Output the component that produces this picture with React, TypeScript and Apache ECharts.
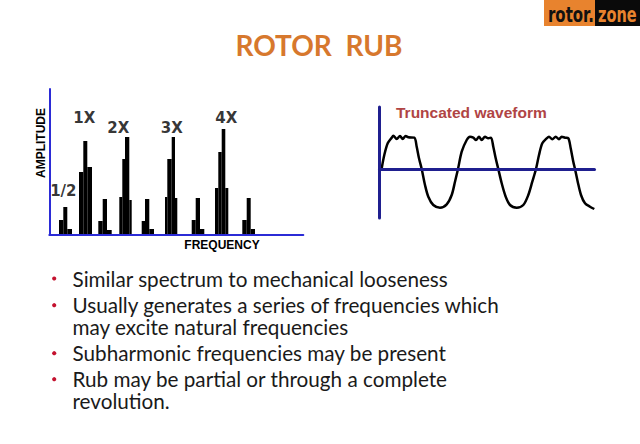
import React, { useEffect, useRef } from "react";
import * as echarts from "echarts";

// ---- Spectrum (left chart): stepped bins [start, end, amplitude] ----
const binStart = [9.7, 14, 18, 29.7, 34, 38, 49, 53.4, 57.7, 70, 73, 75.7, 80, 92.4, 95.7, 100, 115.7, 118, 122.4, 125.7, 142.4, 146.4, 150.7, 165.7, 169, 172.4, 176, 193, 197.4, 201.4];
const binEnd = [14, 18, 22.7, 34, 38, 42.7, 53.4, 57.7, 62.4, 73, 75.7, 80, 82.4, 95.7, 100, 104.7, 118, 122.4, 125.7, 128, 146.4, 150.7, 155, 169, 172.4, 176, 179, 197.4, 201.4, 205.7];
const binAmp = [15, 28, 6, 63, 94, 68, 14, 36, 5, 38, 76, 98, 35, 14, 36, 6, 38, 76, 98, 37, 15, 37, 6, 47, 83, 106, 47, 15, 37, 6];

const peakNames = ["1/2", "1X", "2X", "3X", "4X"];
const peakLabelX = [14, 34.9, 69, 122.4, 177];
const peakLabelY = [44, 117.5, 107.5, 107.5, 117.5];

// ---- Truncated waveform (right chart) ----
const waveT = [2.2, 4.8, 8.2, 12.2, 13.8, 17.2, 20.5, 23.2, 26.2, 28.8, 34.8, 37.2, 39.5, 42.2, 45.5, 48.8, 53.8, 60.5, 67.2, 72.2, 75.5, 78.5, 82.2, 87.2, 90.5, 93.8, 96.5, 99.5, 102.2, 105.5, 108.8, 111.5, 113.8, 116.2, 118.8, 122.2, 126.2, 130.5, 137.2, 143.8, 148.8, 152.8, 156.5, 159.5, 162.8, 167.2, 169.5, 172.8, 176.2, 179.5, 182.2, 185.5, 188.8, 191.2, 193.8, 195.5, 198.2, 201.5, 205.5, 210.5, 214.8];
const waveA = [0.7, 14, 25.7, 31.3, 33.3, 30, 33, 30, 33, 31.7, 31.3, 22.3, 10.7, 0, -16, -27.7, -36, -38.7, -35.3, -26, -12.7, 0, 17.3, 29, 32.3, 31.3, 29, 32.3, 29, 32.3, 30.7, 31.3, 22.3, 10.7, 0, -14.3, -27.7, -36, -38.7, -36, -26, -12.7, 0, 14, 25.7, 30.7, 32.3, 29.7, 32.3, 29.7, 32.3, 31.3, 30.7, 20.7, 7.3, 0, -12.7, -26, -34.3, -37.7, -40];

// ---- Texts ----
const titleText = "ROTOR  RUB";
const bulletLines = [
  "Similar spectrum to mechanical looseness",
  "Usually generates a series of frequencies which",
  "may excite natural frequencies",
  "Subharmonic frequencies may be present",
  "Rub may be partial or through a complete",
  "revolution.",
];
const bulletStartsItem = [true, true, false, true, true, false];

export default function App() {
  const ref = useRef<HTMLDivElement>(null);
  useEffect(() => {
    if (!ref.current) return;
    const chart = echarts.init(ref.current, null, { renderer: "svg" });

    const bins = binStart.map((s, i) => [s, binEnd[i], binAmp[i]]);
    const peaks = peakNames.map((n, i) => [peakLabelX[i], peakLabelY[i], n]);
    const wave = waveT.map((t, i) => [t, waveA[i]]);

    const lineCenters = [278.5, 305.2, 326.5, 353.2, 379.2, 400.8];
    const bulletGraphics: any[] = [];
    bulletLines.forEach((txt, i) => {
      if (bulletStartsItem[i]) {
        bulletGraphics.push({
          type: "circle",
          shape: { cx: 54.2, cy: lineCenters[i], r: 2.1 },
          style: { fill: "#C4122F" },
        });
      }
      bulletGraphics.push({
        type: "text",
        x: 72.5,
        y: lineCenters[i],
        style: {
          text: txt,
          fill: "#1a1a1a",
          fontSize: 20.7,
          lineHeight: 20,
          fontFamily: "Lato",
          align: "left",
          verticalAlign: "middle",
        },
      });
    });

    const option: any = {
      animation: false,
      backgroundColor: "#ffffff",
      grid: [
        { left: 49.3, top: 89, width: 254, height: 146 },
        { left: 379.5, top: 107, width: 215, height: 111 },
      ],
      xAxis: [
        {
          gridIndex: 0, type: "value", min: 0, max: 254, z: 5,
          axisLine: { show: true, lineStyle: { color: "#2b2bd6", width: 2 } },
          axisTick: { show: false }, axisLabel: { show: false }, splitLine: { show: false },
        },
        {
          gridIndex: 1, type: "value", min: 0, max: 215, z: 5,
          axisLine: { show: true, onZero: true, lineStyle: { color: "#1f1f8f", width: 3 } },
          axisTick: { show: false }, axisLabel: { show: false }, splitLine: { show: false },
        },
      ],
      yAxis: [
        {
          gridIndex: 0, type: "value", min: 0, max: 146, z: 5,
          axisLine: { show: true, lineStyle: { color: "#2b2bd6", width: 2 } },
          axisTick: { show: false }, axisLabel: { show: false }, splitLine: { show: false },
        },
        {
          gridIndex: 1, type: "value", min: -49, max: 62, z: 5,
          axisLine: { show: true, onZero: false, lineStyle: { color: "#1f1f8f", width: 3 } },
          axisTick: { show: false }, axisLabel: { show: false }, splitLine: { show: false },
        },
      ],
      series: [
        {
          type: "custom",
          xAxisIndex: 0, yAxisIndex: 0,
          data: bins,
          encode: { x: [0, 1], y: 2 },
          renderItem: (params: any, api: any) => {
            const p0 = api.coord([api.value(0), api.value(2)]);
            const p1 = api.coord([api.value(1), 0]);
            return {
              type: "rect",
              shape: { x: p0[0], y: p0[1], width: p1[0] - p0[0], height: p1[1] - p0[1] },
              style: { fill: "#000000" },
            };
          },
        },
        {
          type: "scatter",
          xAxisIndex: 0, yAxisIndex: 0,
          data: peaks,
          symbolSize: 0,
          label: {
            show: true,
            position: "inside",
            formatter: (p: any) => p.data[2],
            color: "#000",
            fontFamily: "DejaVu Sans",
            fontWeight: "bold",
            fontSize: 15,
          },
        },
        {
          type: "line",
          xAxisIndex: 1, yAxisIndex: 1,
          data: wave,
          showSymbol: false,
          smooth: 0.3,
          lineStyle: { color: "#000000", width: 2.5 },
        },
      ],
      graphic: [
        {
          type: "text", x: 319, y: 45,
          style: { text: titleText, fill: "#D7782D", fontSize: 28, fontWeight: "bold", fontFamily: "Lato", align: "center", verticalAlign: "middle" },
        },
        { type: "rect", shape: { x: 544, y: 0, width: 51, height: 26 }, style: { fill: "#E8832E" } },
        { type: "rect", shape: { x: 595, y: 0, width: 45, height: 26 }, style: { fill: "#0a0a0a" } },
        {
          type: "text", x: 548, y: 14, scaleX: 0.68,
          style: { text: "rotor.", fill: "#111", fontSize: 22, fontWeight: "bold", fontFamily: "DejaVu Sans", align: "left", verticalAlign: "middle" },
        },
        {
          type: "text", x: 598, y: 14, scaleX: 0.66,
          style: { text: "zone", fill: "#E8832E", fontSize: 22, fontWeight: "bold", fontFamily: "DejaVu Sans", align: "left", verticalAlign: "middle" },
        },
        {
          type: "text", x: 396, y: 112,
          style: { text: "Truncated waveform", fill: "#B04444", fontSize: 15.5, fontWeight: "bold", fontFamily: "Liberation Sans", align: "left", verticalAlign: "middle" },
        },
        {
          type: "text", x: 41, y: 143, rotation: Math.PI / 2,
          style: { text: "AMPLITUDE", fill: "#000", fontSize: 12, fontWeight: "bold", fontFamily: "Liberation Sans", align: "center", verticalAlign: "middle" },
        },
        {
          type: "text", x: 222, y: 245,
          style: { text: "FREQUENCY", fill: "#000", fontSize: 12, fontWeight: "bold", fontFamily: "Liberation Sans", align: "center", verticalAlign: "middle" },
        },
        ...bulletGraphics,
      ],
    };
    chart.setOption(option);
    return () => chart.dispose();
  }, []);

  return (
    <div
      ref={ref}
      style={{ position: "fixed", left: 0, top: 0, width: 640, height: 444, background: "#fff" }}
    />
  );
}
